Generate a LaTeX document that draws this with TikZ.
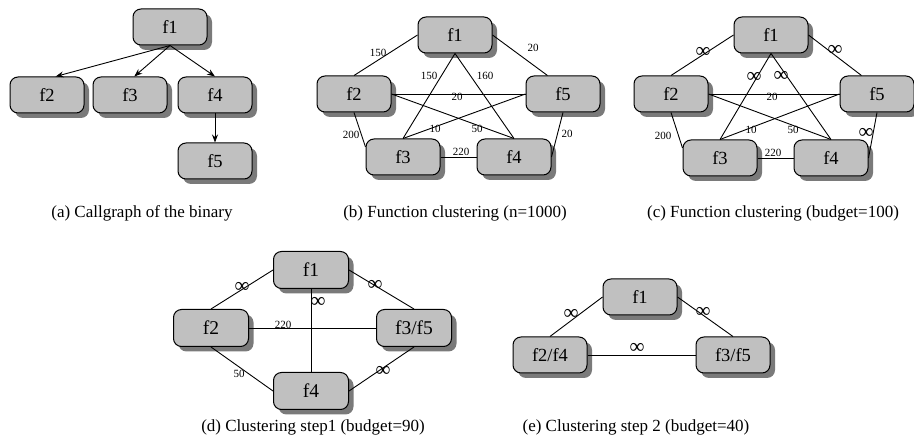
\documentclass[tikz,border=0pt]{standalone}
\usepackage{fontspec}
\setmainfont{Liberation Serif}
\usetikzlibrary{shadows,arrows.meta}
\definecolor{boxgray}{HTML}{C0C0C0}
\definecolor{shadegray}{HTML}{7A7A7A}
\tikzset{
  fn/.style={draw=black, line width=1pt, fill=boxgray, rounded corners=8pt,
    minimum width=74pt, minimum height=36pt, inner sep=0pt,
    font=\fontsize{18.5}{18.5}\selectfont,
    drop shadow={shadow xshift=5pt, shadow yshift=-5pt, fill=shadegray, opacity=1}},
  fnd/.style={fn, minimum width=75pt, minimum height=37pt, font=\fontsize{19.5}{19.5}\selectfont},
  link/.style={line width=0.9pt},
  arr/.style={line width=0.9pt, -{Stealth[length=8pt,width=6pt]}},
  lbl/.style={font=\fontsize{11}{11}\selectfont, inner sep=0.5pt},
  inf/.style={font=\fontsize{21}{21}\selectfont, inner sep=0pt},
  captext/.style={font=\fontsize{17}{17}\selectfont, inner sep=0pt},
}
\begin{document}
\begin{tikzpicture}[x=1pt,y=-1pt]
\useasboundingbox (0,0) rectangle (914,443);

% ---------- (a) ----------
\node[fn] (a1) at (170,27) {f1};
\node[fn] (a2) at (47,95) {f2};
\node[fn] (a3) at (130,95) {f3};
\node[fn] (a4) at (215,95) {f4};
\node[fn] (a5) at (215,161) {f5};
\draw[arr] (a1.south) -- (a2.65);
\draw[arr] (a1.south) -- (a3.77);
\draw[arr] (a1.south) -- (a4.north);
\draw[arr] (a4.south) -- (a5.north);
\node[captext] (capa) at (142,213) {(a) Callgraph of the binary};

% ---------- (b) ----------
\node[fn] (b1) at (455,35) {f1};
\node[fn] (b2) at (354,94) {f2};
\node[fn] (b5) at (563,94) {f5};
\node[fn] (b3) at (403,157) {f3};
\node[fn] (b4) at (514,157) {f4};
\draw[link] (b1.west) -- (b2.north) node[lbl, at={(378,53)}] {150};
\draw[link] (b1.east) -- (b5.130) node[lbl, at={(533,48)}] {20};
\draw[link] (b1.south) -- (b3.north) node[lbl, at={(429,76)}] {150};
\draw[link] (b1.south) -- (b4.north) node[lbl, at={(485,76)}] {160};
\draw[link] (b2.east) -- (b5.west) node[lbl, at={(457,97)}] {20};
\draw[link] (b2.east) -- (b4.north) node[lbl, at={(477,129)}] {50};
\draw[link] (b5.west) -- (b3.north) node[lbl, at={(435,129)}] {10};
\draw[link] (b2.south) -- (b3.165) node[lbl, at={(351,135)}] {200};
\draw[link] (b5.south) -- (b4.east) node[lbl, at={(567,134)}] {20};
\draw[link] (b3.east) -- (b4.west) node[lbl, at={(461,152)}] {220};
\node[captext] (capb) at (455,213) {(b) Function clustering (n=1000)};

% ---------- (c) ----------
\node[fn] (c1) at (771,35) {f1};
\node[fn] (c2) at (671,94) {f2};
\node[fn] (c5) at (877,94) {f5};
\node[fn] (c3) at (720,158) {f3};
\node[fn] (c4) at (831,158) {f4};
\draw[link] (c1.west) -- (c2.north) node[inf, at={(703,52)}] {∞};
\draw[link] (c1.east) -- (c5.130) node[inf, at={(835,50)}] {∞};
\draw[link] (c1.south) -- (c3.north) node[inf, at={(754,77)}] {∞};
\draw[link] (c1.south) -- (c4.north) node[inf, at={(781,76)}] {∞};
\draw[link] (c2.east) -- (c5.west) node[lbl, at={(772,97)}] {20};
\draw[link] (c2.east) -- (c4.north) node[lbl, at={(793,130)}] {50};
\draw[link] (c5.west) -- (c3.north) node[lbl, at={(751,130)}] {10};
\draw[link] (c2.south) -- (c3.165) node[lbl, at={(663,136)}] {200};
\draw[link] (c5.south) -- (c4.east) node[inf, at={(866,133)}] {∞};
\draw[link] (c3.east) -- (c4.west) node[lbl, at={(773,153)}] {220};
\node[captext] (capc) at (773,213) {(c) Function clustering (budget=100)};

% ---------- (d) ----------
\node[fnd] (d1) at (311,270) {f1};
\node[fnd] (d2) at (211,328) {f2};
\node[fnd] (d35) at (414,328) {f3/f5};
\node[fnd] (d4) at (311,391) {f4};
\draw[link] (d1.west) -- (d2.north) node[inf, at={(242,287)}] {∞};
\draw[link] (d1.east) -- (d35.north) node[inf, at={(375,285)}] {∞};
\draw[link] (d1.south) -- (d4.north) node[inf, at={(318,302)}] {∞};
\draw[link] (d2.east) -- (d35.west) node[lbl, at={(283,325)}] {220};
\draw[link] (d2.south) -- (d4.west) node[lbl, at={(239,374)}] {50};
\draw[link] (d35.south) -- (d4.east) node[inf, at={(383,371)}] {∞};
\node[captext] (capd) at (313,427) {(d) Clustering step1 (budget=90)};

% ---------- (e) ----------
\node[fn] (e1) at (640,297) {f1};
\node[fn] (e24) at (550,355) {f2/f4};
\node[fn] (e35) at (733,355) {f3/f5};
\draw[link] (e1.west) -- (e24.north) node[inf, at={(571,314)}] {∞};
\draw[link] (e1.east) -- (e35.north) node[inf, at={(703,312)}] {∞};
\draw[link] (e24.east) -- (e35.west) node[inf, at={(637,348)}] {∞};
\node[captext] (cape) at (636,427) {(e) Clustering step 2 (budget=40)};
\end{tikzpicture}
\end{document}
